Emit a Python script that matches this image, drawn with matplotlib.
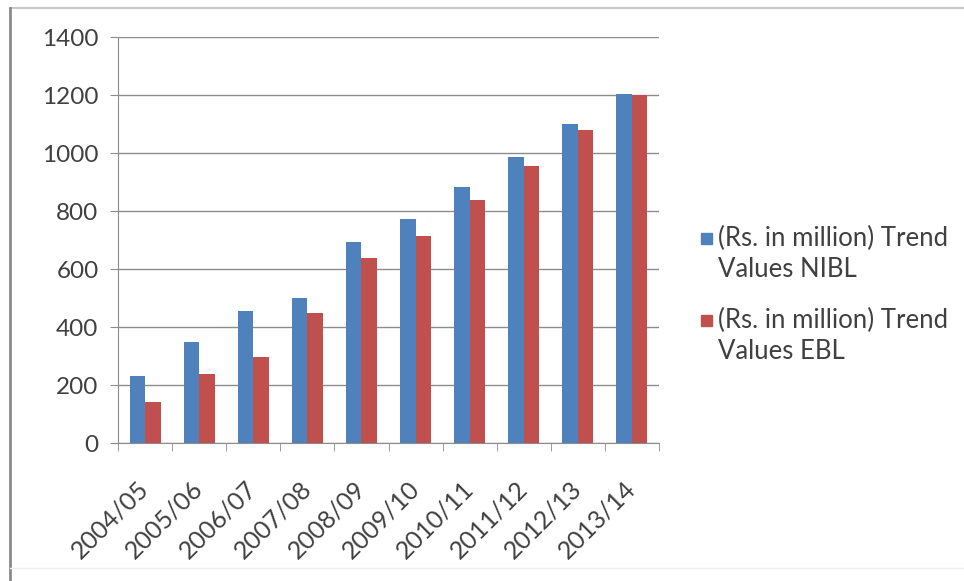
import matplotlib
matplotlib.use('Agg')
import matplotlib.pyplot as plt
from matplotlib.patches import Rectangle
from matplotlib.lines import Line2D
import numpy as np

years = ['2004/05', '2005/06', '2006/07', '2007/08', '2008/09',
         '2009/10', '2010/11', '2011/12', '2012/13', '2013/14']
nibl = [230, 349, 454, 500, 694, 772, 883, 986, 1099, 1205]
ebl = [140, 238, 295, 450, 637, 714, 839, 956, 1078, 1200]
series_names = [['(Rs. in million) Trend', 'Values NIBL'],
                ['(Rs. in million) Trend', 'Values EBL']]
colors = ['#4F81BD', '#C0504D']

plt.rcParams['font.family'] = ['Lato', 'DejaVu Sans']

W, H = 964, 581
fig = plt.figure(figsize=(W / 100, H / 100), dpi=100)
ax = fig.add_axes([118 / W, 1 - 443 / H, 541 / W, 406 / H])


def fx(px):
    return px / W


def fy(py):
    return 1 - py / H


# chart frame: light top edge, darker left edge, faint bottom
fig.add_artist(Line2D([fx(10), 1], [fy(8), fy(8)],
                      transform=fig.transFigure, color='#c8c8c8', lw=1.5))
fig.add_artist(Line2D([fx(10), fx(10)], [0, fy(8)],
                      transform=fig.transFigure, color='#8a8a8a', lw=2))
fig.add_artist(Line2D([fx(10), 1], [fy(568), fy(568)],
                      transform=fig.transFigure, color='#f0f0f0', lw=1))

x = np.arange(len(years))
w = 0.286
ax.bar(x - w / 2, nibl, w, color=colors[0], zorder=3)
ax.bar(x + w / 2, ebl, w, color=colors[1], zorder=3)

ax.set_xlim(-0.5, len(years) - 0.5)
ax.set_ylim(0, 1400)
ax.set_yticks(range(0, 1401, 200))
ax.yaxis.grid(True, color='#8c8c8c', linewidth=1.0, zorder=0)

ax.set_xticks(x)
ax.set_xticklabels(years, rotation=45, ha='right', va='center',
                   rotation_mode='anchor')
ax.set_xticks(np.arange(-0.5, len(years)), minor=True)
ax.tick_params(axis='x', which='major', length=0, labelsize=18,
               colors='#404040', pad=30)
ax.tick_params(axis='x', which='minor', length=6, color='#8c8c8c')
ax.tick_params(axis='y', length=6, color='#8c8c8c', labelsize=17.5,
               labelcolor='#404040', pad=8)

for side in ['top', 'right']:
    ax.spines[side].set_visible(False)
for side in ['left', 'bottom']:
    ax.spines[side].set_color('#8c8c8c')

# legend: square key beside the first line of each two-line label
entry_tops = [246, 328]
for top, color, lines in zip(entry_tops, colors, series_names):
    fig.add_artist(Rectangle((fx(701), fy(top - 2)), 11 / W, 11 / H,
                             transform=fig.transFigure, color=color))
    for i, line in enumerate(lines):
        fig.text(fx(718), fy(top + i * 31), line, fontsize=18.5,
                 color='#404040', va='baseline', ha='left')

fig.savefig('out.png', dpi=100)
